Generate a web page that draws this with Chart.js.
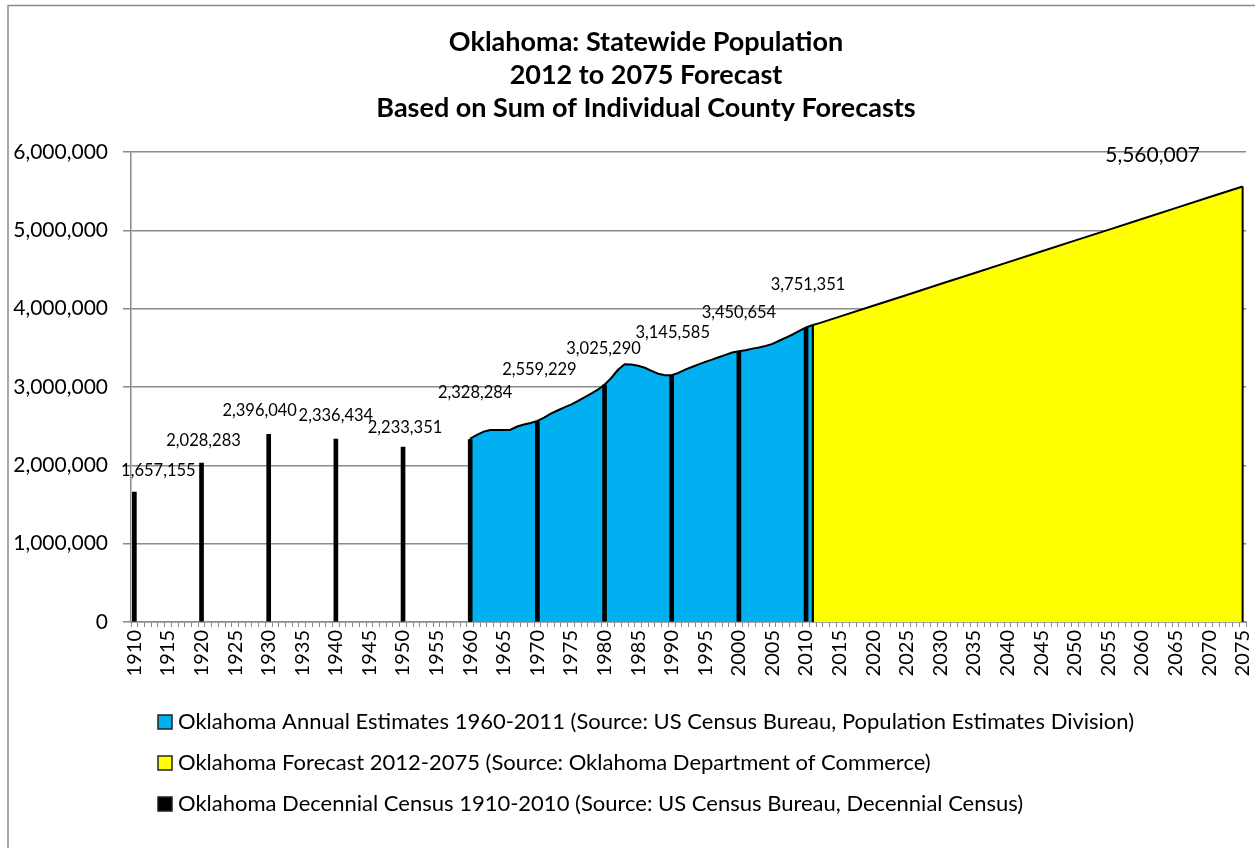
<!DOCTYPE html>
<html>
<head>
<meta charset="utf-8">
<title>Oklahoma: Statewide Population</title>
<script src="https://cdn.jsdelivr.net/npm/chart.js@4.4.1/dist/chart.umd.min.js"></script>
<style>
    html, body { margin: 0; padding: 0; background: #fff; }
    canvas { display: block; }
</style>
</head>
<body>
<canvas id="popChart" width="1255" height="848"></canvas>
<script>
// category axis: one slot per year
const years = [];
for (let y = 1910; y <= 2075; y++) years.push(String(y));

const censusYears = [1910, 1920, 1930, 1940, 1950, 1960, 1970, 1980, 1990, 2000, 2010];
const censusValues = [1657155, 2028283, 2396040, 2336434, 2233351, 2328284, 2559229, 3025290, 3145585, 3450654, 3751351];

// annual estimates 1960 - 2011 (read off the blue area)
const estimateStart = 1960;
const estimateValues = [
    2340000, 2390000, 2430000, 2450000, 2452000, 2450000, 2455000, 2495000, 2520000, 2540000,
    2567000, 2610000, 2660000, 2700000, 2740000, 2775000, 2820000, 2868000, 2915000, 2965000,
    3030000, 3115000, 3220000, 3290000, 3288000, 3270000, 3245000, 3205000, 3170000, 3150000,
    3150000, 3180000, 3222000, 3255000, 3288000, 3320000, 3350000, 3380000, 3410000, 3440000,
    3455000, 3470000, 3490000, 3505000, 3525000, 3550000, 3590000, 3630000, 3670000, 3715000,
    3760000, 3791508
];
const estimateYears = estimateValues.map((v, i) => estimateStart + i);

const forecastYears = [2011, 2012, 2015, 2020, 2025, 2030, 2035, 2040, 2045, 2050, 2055, 2060, 2065, 2070, 2075];
const forecastValues = [3791508, 3815000, 3898000, 4037000, 4175000, 4314000, 4452000, 4591000, 4729000, 4868000, 5006000, 5145000, 5283000, 5422000, 5560007];

const seriesNames = [
    'Oklahoma Annual Estimates 1960-2011 (Source: US Census Bureau, Population Estimates Division)',
    'Oklahoma Forecast 2012-2075 (Source: Oklahoma Department of Commerce)',
    'Oklahoma Decennial Census 1910-2010 (Source: US Census Bureau, Decennial Census)'
];

// hand placed label nudges (pixels from top of each census bar)
const censusLabelOffsets = [[24, -22], [2, -22], [-9, -24], [0, -23], [2, -19], [5, -47], [2, -52], [-1, -36], [1, -43], [0, -39], [2, -43]];

const axisGray = '#8a8a8a';
const fontFamily = 'Lato';

function toPoints(xs, ys) {
    return xs.map((x, i) => ({ x: String(x), y: ys[i] }));
}

const background = {
    id: 'background',
    beforeDraw(chart) {
        const c = chart.ctx;
        c.save();
        c.fillStyle = '#fff';
        c.fillRect(0, 0, chart.width, chart.height);
        c.strokeStyle = axisGray;
        c.lineWidth = 1.5;
        c.strokeRect(8, 5.5, chart.width + 20, chart.height + 20);
        c.restore();
    },
    // the title sits a little right of the canvas centre in the original
    afterLayout(chart) {
        chart.titleBlock.left += 19;
        chart.titleBlock.right += 19;
    }
};

// Excel style closed area: vertical edges at the first and last point
const areaEdges = {
    id: 'areaEdges',
    afterDatasetDraw(chart, args) {
        const meta = args.meta;
        if (meta.type !== 'line') return;
        const pts = meta.data;
        const base = chart.scales.y.getPixelForValue(0);
        const c = chart.ctx;
        c.save();
        c.strokeStyle = '#000';
        c.lineWidth = 2;
        c.beginPath();
        [pts[0], pts[pts.length - 1]].forEach(p => {
            c.moveTo(p.x, p.y);
            c.lineTo(p.x, base);
        });
        c.stroke();
        c.restore();
    }
};

const valueLabels = {
    id: 'valueLabels',
    afterDatasetsDraw(chart) {
        const c = chart.ctx;
        c.save();
        c.fillStyle = '#000';
        c.textAlign = 'center';
        c.textBaseline = 'middle';
        c.font = '16.5px ' + fontFamily;
        chart.getDatasetMeta(2).data.forEach((bar, i) => {
            const off = censusLabelOffsets[i];
            c.fillText(censusValues[i].toLocaleString('en-US'), bar.x + off[0], bar.y + off[1]);
        });
        const fc = chart.getDatasetMeta(1).data;
        const last = fc[fc.length - 1];
        c.font = '21px ' + fontFamily;
        c.fillText(forecastValues[forecastValues.length - 1].toLocaleString('en-US'), last.x - 90, last.y - 31);
        c.restore();
    }
};

const listLegend = {
    id: 'listLegend',
    afterDraw(chart) {
        const c = chart.ctx;
        c.save();
        c.font = '22px ' + fontFamily;
        c.textAlign = 'left';
        c.textBaseline = 'middle';
        chart.data.datasets.forEach((ds, row) => {
            const y = 722 + row * 41;
            c.fillStyle = ds.backgroundColor;
            c.fillRect(158, y - 7, 14, 14);
            c.strokeStyle = '#222';
            c.lineWidth = 1.5;
            c.strokeRect(158, y - 7, 14, 14);
            c.fillStyle = '#000';
            c.fillText(ds.label, 178, y);
        });
        c.restore();
    }
};

const ctx = document.getElementById('popChart').getContext('2d');

new Chart(ctx, {
    type: 'bar',
    data: {
        labels: years,
        datasets: [
            {
                type: 'line',
                label: seriesNames[0],
                data: toPoints(estimateYears, estimateValues),
                backgroundColor: '#00B0F0',
                borderColor: '#000',
                borderWidth: 2,
                fill: 'origin',
                pointRadius: 0,
                tension: 0,
                order: 1
            },
            {
                type: 'line',
                label: seriesNames[1],
                data: toPoints(forecastYears, forecastValues),
                backgroundColor: '#FFFF00',
                borderColor: '#000',
                borderWidth: 2,
                fill: 'origin',
                pointRadius: 0,
                tension: 0,
                order: 2
            },
            {
                type: 'bar',
                label: seriesNames[2],
                data: toPoints(censusYears, censusValues),
                backgroundColor: '#000',
                barThickness: 4,
                order: 0
            }
        ]
    },
    options: {
        responsive: false,
        animation: false,
        layout: {
            padding: { left: 8, top: 5, right: 9, bottom: 0 }
        },
        plugins: {
            legend: { display: false },
            tooltip: { enabled: false },
            title: {
                display: true,
                text: ['Oklahoma: Statewide Population', '2012 to 2075 Forecast', 'Based on Sum of Individual County Forecasts'],
                color: '#000',
                font: { family: fontFamily, size: 27, weight: 'bold', lineHeight: 1.222 },
                padding: { top: 20.5, bottom: 27.5 }
            }
        },
        scales: {
            x: {
                offset: true,
                grid: {
                    offset: true,
                    drawOnChartArea: false,
                    color: axisGray,
                    tickLength: 5,
                    lineWidth: 1
                },
                border: { color: axisGray, width: 1.5 },
                ticks: {
                    autoSkip: false,
                    minRotation: 90,
                    maxRotation: 90,
                    padding: 3,
                    color: '#000',
                    font: { family: fontFamily, size: 20 },
                    callback: function (value) {
                        const label = this.getLabelForValue(value);
                        return Number(label) % 5 === 0 ? label : '';
                    }
                },
                afterFit: function (scale) {
                    scale.height = 226;
                    scale.paddingLeft = 0;
                    scale.paddingRight = 0;
                }
            },
            y: {
                min: 0,
                max: 6000000,
                ticks: {
                    stepSize: 1000000,
                    padding: 15,
                    color: '#000',
                    font: { family: fontFamily, size: 21 },
                    callback: v => v.toLocaleString('en-US')
                },
                grid: { color: axisGray, lineWidth: 1.5, tickLength: 8 },
                border: { color: axisGray, width: 1.5 },
                afterFit: function (scale) {
                    scale.width = 123;
                }
            }
        }
    },
    plugins: [background, areaEdges, valueLabels, listLegend]
});
</script>
</body>
</html>
